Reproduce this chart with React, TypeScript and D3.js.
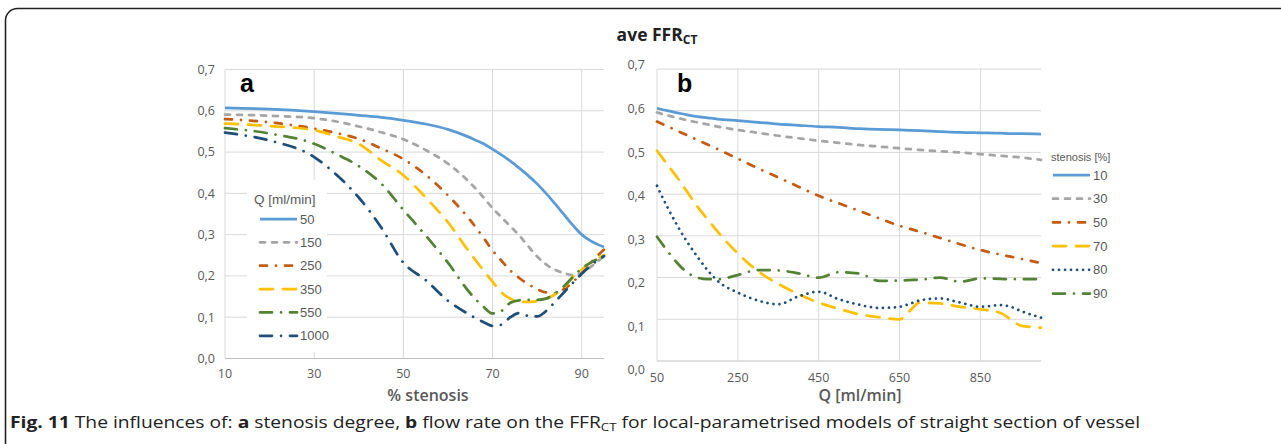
import React from "react";
import * as d3 from "d3";

// ---------- Data ----------
// Panel a: FFR_CT vs % stenosis for different flow rates Q [ml/min]
const stenosis = [10, 20, 30, 35, 40, 45, 50, 55, 60, 65, 68, 70, 72, 74, 76, 78, 80, 82, 84, 86, 88, 90, 92, 95];
const flowSeriesNames = ["50", "150", "250", "350", "550", "1000"];
const q50 = [0.607, 0.604, 0.598, 0.594, 0.589, 0.584, 0.577, 0.568, 0.555, 0.535, 0.52, 0.507, 0.493, 0.478, 0.461, 0.443, 0.423, 0.4, 0.375, 0.349, 0.323, 0.3, 0.285, 0.27];
const q150 = [0.591, 0.588, 0.582, 0.574, 0.562, 0.548, 0.531, 0.505, 0.472, 0.425, 0.39, 0.364, 0.342, 0.32, 0.298, 0.272, 0.247, 0.228, 0.215, 0.207, 0.202, 0.207, 0.222, 0.248];
const q250 = [0.58, 0.572, 0.557, 0.546, 0.532, 0.509, 0.483, 0.445, 0.395, 0.335, 0.292, 0.262, 0.237, 0.213, 0.195, 0.18, 0.168, 0.16, 0.158, 0.168, 0.185, 0.207, 0.232, 0.264];
const q350 = [0.569, 0.563, 0.553, 0.538, 0.52, 0.48, 0.444, 0.39, 0.33, 0.255, 0.213, 0.186, 0.16, 0.145, 0.138, 0.137, 0.139, 0.145, 0.155, 0.172, 0.197, 0.215, 0.233, 0.25];
const q550 = [0.558, 0.545, 0.52, 0.495, 0.466, 0.424, 0.36, 0.298, 0.232, 0.158, 0.125, 0.109, 0.115, 0.135, 0.141, 0.142, 0.142, 0.145, 0.158, 0.175, 0.197, 0.218, 0.232, 0.248];
const q1000 = [0.547, 0.528, 0.488, 0.445, 0.39, 0.318, 0.232, 0.19, 0.14, 0.105, 0.088, 0.079, 0.082, 0.1, 0.11, 0.103, 0.102, 0.115, 0.137, 0.16, 0.183, 0.205, 0.225, 0.248];

// Panel b: FFR_CT vs flow rate Q for different stenosis degrees [%]
const flow = [50, 75, 100, 125, 150, 175, 200, 250, 300, 350, 400, 450, 500, 550, 600, 650, 675, 700, 750, 800, 850, 900, 925, 950, 1000];
const stenosisSeriesNames = ["10", "30", "50", "70", "80", "90"];
const s10 = [0.606, 0.6, 0.595, 0.59, 0.586, 0.583, 0.58, 0.576, 0.572, 0.568, 0.565, 0.562, 0.56, 0.557, 0.555, 0.554, 0.553, 0.552, 0.55, 0.548, 0.547, 0.546, 0.545, 0.545, 0.544];
const s30 = [0.596, 0.589, 0.583, 0.577, 0.572, 0.567, 0.562, 0.554, 0.547, 0.54, 0.534, 0.528, 0.523, 0.518, 0.514, 0.51, 0.508, 0.506, 0.503, 0.5, 0.496, 0.492, 0.49, 0.488, 0.482];
const s50 = [0.574, 0.563, 0.552, 0.541, 0.53, 0.519, 0.508, 0.485, 0.462, 0.44, 0.418, 0.396, 0.378, 0.36, 0.342, 0.324, 0.317, 0.31, 0.295, 0.28, 0.266, 0.255, 0.25, 0.245, 0.235];
const s70 = [0.504, 0.472, 0.44, 0.405, 0.37, 0.34, 0.31, 0.258, 0.215, 0.185, 0.16, 0.14, 0.125, 0.112, 0.105, 0.1, 0.12, 0.14, 0.138, 0.13, 0.124, 0.115, 0.1, 0.085, 0.08];
const s80 = [0.42, 0.37, 0.325, 0.285, 0.25, 0.218, 0.192, 0.164, 0.145, 0.136, 0.155, 0.166, 0.148, 0.135, 0.127, 0.13, 0.137, 0.145, 0.15, 0.14, 0.13, 0.134, 0.13, 0.12, 0.104];
const s90 = [0.298, 0.265, 0.235, 0.212, 0.2, 0.196, 0.196, 0.206, 0.218, 0.217, 0.21, 0.2, 0.213, 0.21, 0.192, 0.193, 0.194, 0.195, 0.2, 0.19, 0.198, 0.197, 0.196, 0.196, 0.196];

const yTicks = [0, 0.1, 0.2, 0.3, 0.4, 0.5, 0.6, 0.7];
const xTicksA = [10, 30, 50, 70, 90];
const xTicksB = [50, 250, 450, 650, 850];

// ---------- Styles ----------
const C = {
  blue: "#5B9BD5",
  gray: "#A5A5A5",
  orange: "#C55A11",
  yellow: "#FFC000",
  green: "#548235",
  navy: "#1F4E79",
};
const DASH = {
  solid: "",
  dash: "5 7",
  dashDot: "7 9 0.01 9",
  longDash: "13 10",
  longDashDot: "12 9 0.01 9",
  dot: "0.01 6",
};

const fmt = (v: number) => d3.format(".1f")(v).replace(".", ",");

type Series = { name: string; values: number[]; color: string; dash: string };

const seriesA: Series[] = [
  { name: flowSeriesNames[0], values: q50, color: C.blue, dash: DASH.solid },
  { name: flowSeriesNames[1], values: q150, color: C.gray, dash: DASH.dash },
  { name: flowSeriesNames[2], values: q250, color: C.orange, dash: DASH.dashDot },
  { name: flowSeriesNames[3], values: q350, color: C.yellow, dash: DASH.longDash },
  { name: flowSeriesNames[4], values: q550, color: C.green, dash: DASH.longDashDot },
  { name: flowSeriesNames[5], values: q1000, color: C.navy, dash: DASH.longDashDot },
];
const seriesB: Series[] = [
  { name: stenosisSeriesNames[0], values: s10, color: C.blue, dash: DASH.solid },
  { name: stenosisSeriesNames[1], values: s30, color: C.gray, dash: DASH.dash },
  { name: stenosisSeriesNames[2], values: s50, color: C.orange, dash: DASH.dashDot },
  { name: stenosisSeriesNames[3], values: s70, color: C.yellow, dash: DASH.longDash },
  { name: stenosisSeriesNames[4], values: s80, color: C.navy, dash: DASH.dot },
  { name: stenosisSeriesNames[5], values: s90, color: C.green, dash: DASH.longDashDot },
];

const TICK_FONT = "'Open Sans', 'DejaVu Sans', sans-serif";
const LEG_FONT = "'Liberation Sans', Arial, sans-serif";
const LW = 2.75;

function Panel(props: {
  xs: number[];
  series: Series[];
  xDomain: [number, number];
  xRange: [number, number];
  yRange: [number, number];
  yLabelRange: [number, number];
  yLabelX: number;
  xTicks: number[];
  xLabelY: number;
  title: string;
  titleX: number;
  letter: string;
  letterX: number;
}) {
  const x = d3.scaleLinear().domain(props.xDomain).range(props.xRange);
  const y = d3.scaleLinear().domain([0, 0.7]).range(props.yRange);
  const yl = d3.scaleLinear().domain([0, 0.7]).range(props.yLabelRange);
  const line = d3
    .line<[number, number]>()
    .x((d) => x(d[0]))
    .y((d) => y(d[1]))
    .curve(d3.curveMonotoneX);
  const [x0, x1] = props.xRange;
  return (
    <g>
      {yTicks.map((t) => (
        <line key={"h" + t} x1={x0} x2={x1} y1={y(t)} y2={y(t)} stroke={t === 0 ? "#BFBFBF" : "#D9D9D9"} strokeWidth={1} />
      ))}
      {props.xTicks.map((t) => (
        <line key={"v" + t} x1={x(t)} x2={x(t)} y1={y(0)} y2={y(0.7)} stroke="#D9D9D9" strokeWidth={1} />
      ))}
      {yTicks.map((t) => (
        <text key={"yl" + t} x={props.yLabelX} y={yl(t)} dy="0.35em" textAnchor="end" fontFamily={TICK_FONT} fontSize={12.5} fill="#595959">
          {fmt(t)}
        </text>
      ))}
      {props.xTicks.map((t) => (
        <text key={"xl" + t} x={x(t)} y={props.xLabelY} textAnchor="middle" fontFamily={TICK_FONT} fontSize={12.5} fill="#595959">
          {t}
        </text>
      ))}
      <text x={props.titleX} y={401} textAnchor="middle" fontFamily={TICK_FONT} fontWeight={600} fontSize={16} fill="#595959">
        {props.title}
      </text>
      <text x={props.letterX} y={92} fontFamily={LEG_FONT} fontWeight={700} fontSize={25} fill="#000">
        {props.letter}
      </text>
      {props.series.map((s) => (
        <path
          key={s.name}
          d={line(props.xs.map((v, i) => [v, s.values[i]] as [number, number])) || ""}
          fill="none"
          stroke={s.color}
          strokeWidth={LW}
          strokeDasharray={s.dash || undefined}
          strokeLinecap={s.dash ? "round" : "butt"}
          strokeLinejoin="round"
        />
      ))}
    </g>
  );
}

function Legend(props: {
  series: Series[];
  box: [number, number, number, number];
  title: string;
  titleX: number;
  titleY: number;
  titleSize: number;
  x0: number;
  x1: number;
  y0: number;
  step: number;
  fontSize: number;
}) {
  const [bx, by, bw, bh] = props.box;
  return (
    <g>
      <rect x={bx} y={by} width={bw} height={bh} fill="#FFFFFF" />
      <text x={props.titleX} y={props.titleY} dy="0.35em" fontFamily={LEG_FONT} fontSize={props.titleSize} fill="#595959">
        {props.title}
      </text>
      {props.series.map((s, i) => {
        const yy = props.y0 + i * props.step;
        return (
          <g key={s.name}>
            <line
              x1={props.x0}
              x2={props.x1}
              y1={yy}
              y2={yy}
              stroke={s.color}
              strokeWidth={LW}
              strokeDasharray={s.dash || undefined}
              strokeLinecap={s.dash ? "round" : "butt"}
            />
            <text x={props.x1 + 3} y={yy} dy="0.35em" fontFamily={LEG_FONT} fontSize={props.fontSize} fill="#595959">
              {s.name}
            </text>
          </g>
        );
      })}
    </g>
  );
}

export default function App() {
  return (
    <svg
      width={1281}
      height={444}
      viewBox="0 0 1281 444"
      style={{ position: "absolute", left: 0, top: 0, background: "#fff" }}
    >
      <rect x={0} y={0} width={1281} height={444} fill="#fff" />
      <rect x={5.5} y={8.5} width={1300} height={460} rx={12} ry={12} fill="none" stroke="#222" strokeWidth={1.6} />

      <text x={657} y={41} textAnchor="middle" fontFamily={TICK_FONT} fontWeight={700} fontSize={17.5} fill="#222">
        ave FFR
        <tspan fontSize={12} dy={3}>CT</tspan>
      </text>

      <Panel
        xs={stenosis}
        series={seriesA}
        xDomain={[10, 95]}
        xRange={[225, 604]}
        yRange={[358.5, 69.5]}
        yLabelRange={[358.5, 69.5]}
        yLabelX={215}
        xTicks={xTicksA}
        xLabelY={378}
        title="% stenosis"
        titleX={428}
        letter="a"
        letterX={240}
      />
      <Panel
        xs={flow}
        series={seriesB}
        xDomain={[50, 1000]}
        xRange={[657, 1041]}
        yRange={[361, 69]}
        yLabelRange={[370, 65]}
        yLabelX={645}
        xTicks={xTicksB}
        xLabelY={382}
        title="Q [ml/min]"
        titleX={860}
        letter="b"
        letterX={677}
      />

      <Legend
        series={seriesA}
        box={[247, 180, 80, 172]}
        title="Q [ml/min]"
        titleX={254}
        titleY={199}
        titleSize={13.5}
        x0={260}
        x1={297}
        y0={219}
        step={23.35}
        fontSize={13}
      />
      <Legend
        series={seriesB}
        box={[1045, 145, 62, 158]}
        title="stenosis [%]"
        titleX={1051}
        titleY={157}
        titleSize={11}
        x0={1053}
        x1={1090}
        y0={175}
        step={23.7}
        fontSize={13}
      />

      <text x={10} y={428} fontFamily="'Open Sans', 'Noto Sans', sans-serif" fontSize={16} fill="#222" textLength={1130} lengthAdjust="spacingAndGlyphs">
        <tspan fontWeight={700}>Fig. 11</tspan> The influences of: <tspan fontWeight={700}>a</tspan> stenosis degree,{" "}
        <tspan fontWeight={700}>b</tspan> flow rate on the FFR<tspan fontSize={11} dy={3}>CT</tspan>
        <tspan dy={-3}> for local-parametrised models of straight section of vessel</tspan>
      </text>
    </svg>
  );
}
